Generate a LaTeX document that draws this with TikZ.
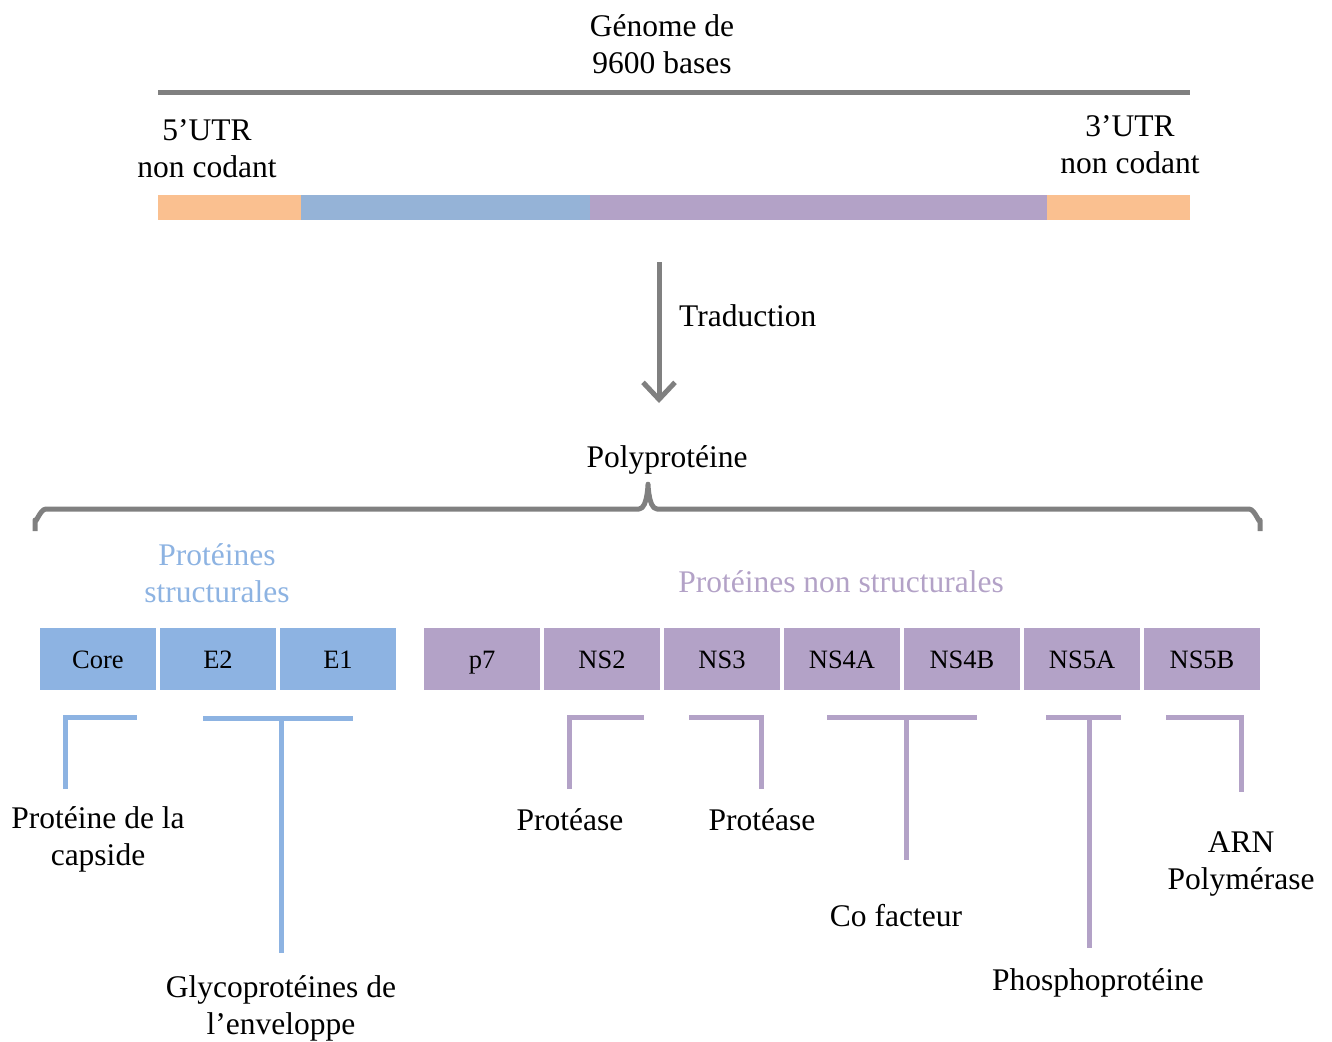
\documentclass[tikz,border=0pt]{standalone}
\usepackage{fontspec}
\setmainfont{Liberation Serif}
\usetikzlibrary{arrows.meta}
\definecolor{gline}{HTML}{808080}
\definecolor{orangebar}{HTML}{FAC090}
\definecolor{bluebar}{HTML}{95B3D7}
\definecolor{purplebar}{HTML}{B3A2C7}
\definecolor{bluebox}{HTML}{8DB3E2}
\definecolor{purplebox}{HTML}{B3A2C7}
\begin{document}
\begin{tikzpicture}[x=1pt,y=-1pt,
  txt/.style={font=\fontsize{31.5}{37}\selectfont, align=center, inner sep=0pt},
  box/.style={minimum width=116pt, minimum height=62pt, inner sep=0pt, text height=20pt, text depth=2pt, font=\fontsize{26.5}{30}\selectfont},
  bbox/.style={box, fill=bluebox},
  pbox/.style={box, fill=purplebox},
  seg/.style={minimum height=25pt, inner sep=0pt, anchor=west},
  gray line/.style={draw=gline, line width=5pt},
  bleg/.style={draw=bluebox, line width=5pt},
  pleg/.style={draw=purplebox, line width=5pt}]
\useasboundingbox (0,0) rectangle (1332,1041);

% genome
\node[txt] (genome) at (662,44) {Génome de\\9600 bases};
\coordinate (gl) at (158,92);
\coordinate (gr) at (1190,92);
\draw[gray line] (gl) -- (gr);
\node[txt] (utr5) at (207,149) {5’UTR\\non codant};
\node[txt] (utr3) at (1130,145) {3’UTR\\non codant};

% coloured bar
\node[seg, fill=orangebar, minimum width=143pt] (s1) at (158,207.5) {};
\node[seg, fill=bluebar, minimum width=289pt] (s2) at (301,207.5) {};
\node[seg, fill=purplebar, minimum width=457pt] (s3) at (590,207.5) {};
\node[seg, fill=orangebar, minimum width=143pt] (s4) at (1047,207.5) {};

% translation arrow
\coordinate (at) at (659,262);
\coordinate (ab) at (659,403);
\draw[gray line, -{Straight Barb[length=17pt,width=32pt]}] (at) -- (ab);
\node[txt, anchor=west] (trad) at (679,316) {Traduction};

\node[txt] (poly) at (667,460) {Polyprotéine};

% brace
\draw[gray line, line join=round]
  (35,531) -- (35,520) to[out=-90,in=180] (46,509) -- (639,509)
  to[out=0,in=90] (648,486) to[out=90,in=180] (657,509) -- (1249,509)
  to[out=0,in=-90] (1260,520) -- (1260,531);

\node[txt, text=bluebox] (struct) at (217,573) {Protéines\\structurales};
\node[txt, text=purplebox] (nstruct) at (841,582) {Protéines non structurales};

% boxes
\node[bbox] (core) at (98,659) {Core};
\node[bbox] (e2) at (218,659) {E2};
\node[bbox] (e1) at (338,659) {E1};
\node[pbox] (p7) at (482,659) {p7};
\node[pbox] (ns2) at (602,659) {NS2};
\node[pbox] (ns3) at (722,659) {NS3};
\node[pbox] (ns4a) at (842,659) {NS4A};
\node[pbox] (ns4b) at (962,659) {NS4B};
\node[pbox] (ns5a) at (1082,659) {NS5A};
\node[pbox] (ns5b) at (1202,659) {NS5B};

% labels
\node[txt] (capside) at (98,839) {Protéine de la\\capside};
\node[txt] (glyco) at (281,1008) {Glycoprotéines de\\l’enveloppe};
\node[txt] (prot1) at (570,820) {Protéase};
\node[txt] (prot2) at (762,820) {Protéase};
\node[txt] (cofact) at (896,916) {Co facteur};
\node[txt] (phospho) at (1098,983) {Phosphoprotéine};
\node[txt] (arn) at (1241,864) {ARN\\Polymérase};

% legs
\coordinate (c1b) at (137,717); \coordinate (c1c) at (65,789);
\draw[bleg] (c1c) -- (65,717) -- (c1b);
\coordinate (c2a) at (203,718); \coordinate (c2b) at (353,718);
\coordinate (c2m) at (281,718); \coordinate (c2c) at (281,953);
\draw[bleg] (c2a) -- (c2b);
\draw[bleg] (c2m) -- (c2c);

\coordinate (c3c) at (569,789); \coordinate (c3b) at (644,717);
\draw[pleg] (c3c) -- (569,717) -- (c3b);
\coordinate (c4a) at (689,717); \coordinate (c4c) at (761,789);
\draw[pleg] (c4a) -- (761,717) -- (c4c);
\coordinate (c5a) at (827,717); \coordinate (c5b) at (977,717);
\coordinate (c5m) at (906,717); \coordinate (c5c) at (906,860);
\draw[pleg] (c5a) -- (c5b);
\draw[pleg] (c5m) -- (c5c);
\coordinate (c6a) at (1046,717); \coordinate (c6b) at (1121,717);
\coordinate (c6m) at (1089,717); \coordinate (c6c) at (1089,948);
\draw[pleg] (c6a) -- (c6b);
\draw[pleg] (c6m) -- (c6c);
\coordinate (c7a) at (1166,717); \coordinate (c7c) at (1241,792);
\draw[pleg] (c7a) -- (1241,717) -- (c7c);
\end{tikzpicture}
\end{document}
